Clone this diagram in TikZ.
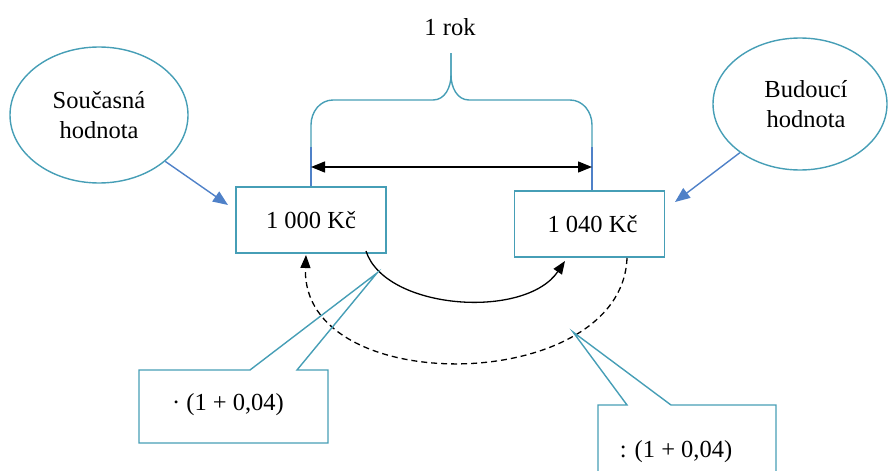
\documentclass[tikz,border=0pt]{standalone}
\usepackage{fontspec}
\setmainfont{Liberation Serif}
\usetikzlibrary{shapes.geometric,arrows.meta}
\definecolor{tealc}{RGB}{70,158,182}
\definecolor{bluec}{RGB}{79,129,200}
\begin{document}
\begin{tikzpicture}[x=1pt,y=-1pt,
  txt/.style={font=\fontsize{24.5}{30}\selectfont},
  bubble/.style={ellipse, draw=tealc, line width=1.4pt, inner sep=0pt, align=center, txt},
  valbox/.style={rectangle, draw=tealc, line width=1.4pt, minimum width=150pt, minimum height=66pt, inner sep=0pt, txt},
  calltext/.style={rectangle, inner sep=0pt, txt},
  callout/.style={draw=tealc, line width=1.4pt, line join=miter},
  ptr/.style={draw=bluec, line width=1.4pt, -{Triangle[length=15pt,width=12pt]}},
  flow/.style={black, line width=1.3pt, -{Triangle[length=13pt,width=10pt]}},
  bracestyle/.style={draw=tealc, line width=1.4pt},
  guide/.style={draw=bluec, line width=1.3pt},
]
\clip (0,0) rectangle (889,471);
\useasboundingbox (0,0) rectangle (889,471);

% ellipses
\node[bubble, minimum width=178pt, minimum height=136pt] (sc) at (99,115) {Současná\\hodnota};
\node[bubble, minimum width=174pt, minimum height=132pt] (bu) at (800,104) {\hspace*{12pt}Budoucí\\\hspace*{12pt}hodnota};

% value boxes
\node[valbox] (b1) at (311,220) {1 000 Kč};
\node[valbox] (b2) at (589.5,224) {\hspace*{6pt}1 040 Kč};

% arrows from ellipses
\coordinate (a1) at (228,205);
\coordinate (a2) at (675,202);
\draw[ptr] (sc.-35) -- (a1);
\draw[ptr] (bu.-141) -- (a2);

% brace
\node[txt] (rok) at (450,27) {1 rok};
\coordinate (bl) at (311,147);
\coordinate (br) at (592,147);
\coordinate (bt) at (451,53);
\draw[guide] (b1.north) -- (bl);
\draw[guide] (b2.north -| br) -- (br);
\draw[bracestyle] (bl) -- (311,125) to[out=90,in=180] (333,100) -- (433,100)
  to[out=0,in=-90] (451,75) -- (bt);
\draw[bracestyle] (bt) -- (451,75) to[out=-90,in=180] (469,100) -- (570,100)
  to[out=0,in=90] (592,125) -- (br);

% double arrow
\coordinate (d1) at (311,167);
\coordinate (d2) at (592,167);
\draw[black, line width=1.4pt, {Triangle[length=14pt,width=11pt]}-{Triangle[length=14pt,width=11pt]}] (d1) -- (d2);

% solid curve
\coordinate (s1) at (366,251);
\coordinate (s2) at (565,261);
\draw[flow] (s1) .. controls (385,310) and (525,320) .. (s2);

% dashed curve
\coordinate (q1) at (627,258);
\coordinate (q2) at (306,255);
\draw[flow, dash pattern=on 6pt off 4pt] (q1) .. controls (622,395) and (300,400) .. (q2);

% callouts
\node[calltext] (c1) at (228,405) {· (1 + 0,04)};
\coordinate (t1) at (377,273);
\draw[callout] (139,370) -- (250,370) -- (t1) -- (297,370) -- (328,370) -- (328,443) -- (139,443) -- cycle;

\node[calltext] (c2) at (676,452) {: (1 + 0,04)};
\coordinate (t2) at (573,332);
\draw[callout] (598,405) -- (627,405) -- (t2) -- (671,405) -- (776,405) -- (776,500) -- (598,500) -- cycle;
\end{tikzpicture}
\end{document}
